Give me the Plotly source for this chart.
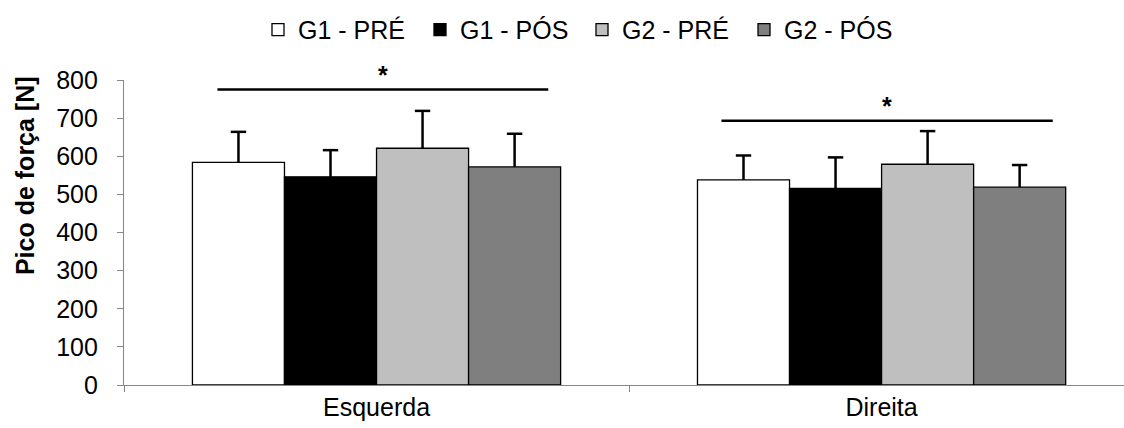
import plotly.graph_objects as go

# Pico de força (N) por lado e grupo/momento
lados = ["Esquerda", "Direita"]
series = ["G1 - PRÉ", "G1 - PÓS", "G2 - PRÉ", "G2 - PÓS"]
medias = {
    "G1 - PRÉ": [584, 538],
    "G1 - PÓS": [546, 516],
    "G2 - PRÉ": [621, 579],
    "G2 - PÓS": [572, 519],
}
desvios = {
    "G1 - PRÉ": [80, 64],
    "G1 - PÓS": [70, 81],
    "G2 - PRÉ": [98, 87],
    "G2 - PÓS": [87, 58],
}
cores = {
    "G1 - PRÉ": "#ffffff",
    "G1 - PÓS": "#000000",
    "G2 - PRÉ": "#bfbfbf",
    "G2 - PÓS": "#7f7f7f",
}

# Barras de significância: (categoria, início, fim, altura)
sig_cat = [0, 1]
sig_ini = [-0.315, -0.317]
sig_fim = [0.340, 0.339]
sig_y = [775, 693]

FONT = "Liberation Sans, Arial, sans-serif"
FS = 25
GAP = 0.271

fig = go.Figure()
for s in series:
    fig.add_trace(go.Bar(
        name=s,
        x=lados,
        y=medias[s],
        offsetgroup=s,
        marker=dict(color=cores[s], line=dict(color="#000000", width=1.3)),
        error_y=dict(type="data", symmetric=False, array=desvios[s],
                     arrayminus=[0] * len(lados), color="#000000",
                     thickness=2.5, width=0),
    ))

# Cap only at the upper end of each error bar
for s in series:
    fig.add_trace(go.Scatter(
        x=lados,
        y=[m + e for m, e in zip(medias[s], desvios[s])],
        mode="markers", offsetgroup=s, showlegend=False, hoverinfo="skip",
        marker=dict(symbol="line-ew", size=11,
                    line=dict(color="#000000", width=2.5)),
    ))

for c, a, b, h in zip(sig_cat, sig_ini, sig_fim, sig_y):
    fig.add_shape(type="line", xref="x", yref="y",
                  x0=c + a, x1=c + b, y0=h, y1=h,
                  line=dict(color="#000000", width=2.5))
    fig.add_annotation(x=c + (a + b) / 2, y=h, xref="x", yref="y",
                       text="<b>*</b>", showarrow=False, yshift=15,
                       font=dict(family=FONT, size=FS, color="#000000"))

# Axis title placed as rotated text
fig.add_annotation(text="<b>Pico de força [N]</b>", textangle=-90,
                   xref="paper", yref="paper", x=-0.099, y=0.685,
                   xanchor="center", yanchor="middle", showarrow=False,
                   font=dict(family=FONT, size=FS, color="#000000"))

fig.update_layout(
    width=1124, height=428,
    margin=dict(l=124, r=0, t=80, b=43),
    paper_bgcolor="#ffffff", plot_bgcolor="#ffffff",
    barmode="group", bargap=GAP, bargroupgap=0,
    scattermode="group", scattergap=GAP,
    font=dict(family=FONT, size=FS, color="#000000"),
    showlegend=True,
    legend=dict(orientation="h", x=0.134, xanchor="left", y=0.93,
                yanchor="middle", yref="container",
                font=dict(family=FONT, size=FS, color="#000000"),
                itemwidth=30, tracegroupgap=0,
                entrywidth=117, entrywidthmode="pixels"),
    xaxis=dict(
        type="category", range=[-0.5, 1.480],
        showline=True, linecolor="#868686", linewidth=1.3,
        ticks="outside", tickson="boundaries", ticklen=6,
        tickcolor="#868686", showgrid=False, zeroline=False,
        tickfont=dict(family=FONT, size=FS),
    ),
    yaxis=dict(
        range=[0, 800], dtick=100,
        showline=True, linecolor="#868686", linewidth=1.3,
        ticks="outside", ticklen=6, tickcolor="#868686",
        ticklabelstandoff=14,
        showgrid=False, zeroline=False,
        tickfont=dict(family=FONT, size=FS),
    ),
)

fig.write_html("out.html")
